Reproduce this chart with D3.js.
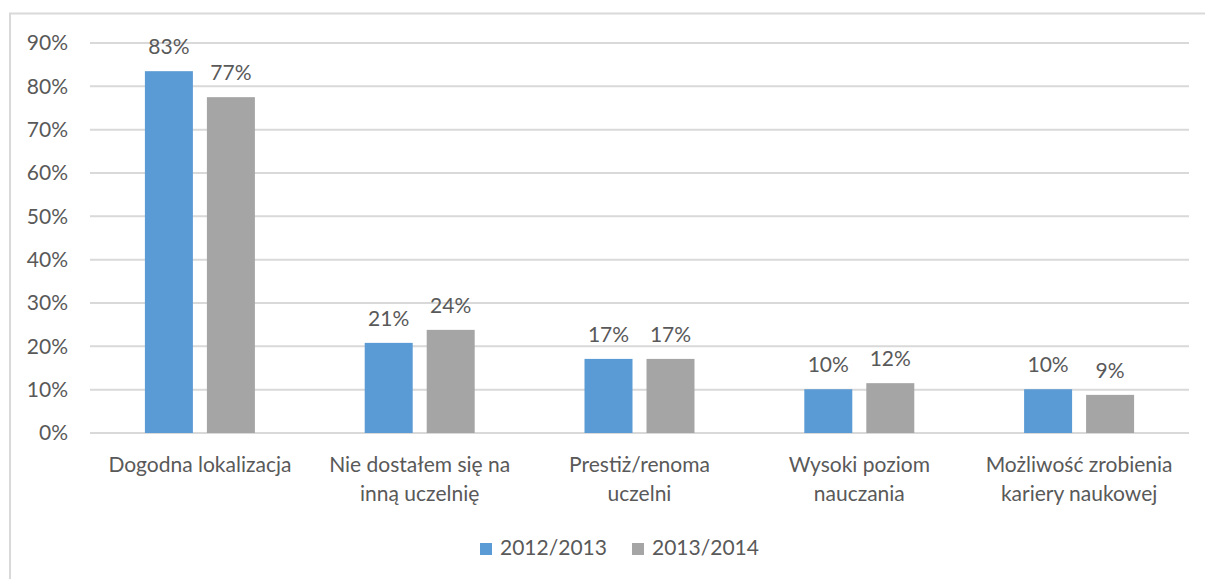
<!DOCTYPE html>
<html>
<head>
<meta charset="utf-8">
<script src="https://cdn.jsdelivr.net/npm/d3@7"></script>
<style>
  body { margin: 0; background: #fff; }
  text { font-family: Lato, "Open Sans", sans-serif; fill: #595959; }
</style>
</head>
<body>
<div id="chart"></div>
<script>
// data
var categories = [
  ["Dogodna lokalizacja"],
  ["Nie dostałem się na", "inną uczelnię"],
  ["Prestiż/renoma", "uczelni"],
  ["Wysoki poziom", "nauczania"],
  ["Możliwość zrobienia", "kariery naukowej"]
];
var seriesNames = ["2012/2013", "2013/2014"];
var values2012 = [0.835, 0.208, 0.171, 0.101, 0.101];
var values2013 = [0.775, 0.238, 0.171, 0.115, 0.088];
var labels2012 = ["83%", "21%", "17%", "10%", "10%"];
var labels2013 = ["77%", "24%", "17%", "12%", "9%"];
var yTicks = [0, 0.1, 0.2, 0.3, 0.4, 0.5, 0.6, 0.7, 0.8, 0.9];
var colors = ["#5b9bd5", "#a5a5a5"];

var svgWidth = 1205;
var svgHeight = 579;
var fontSize = "21px";

var svg = d3.select("#chart")
  .append("svg")
  .attr("width", svgWidth)
  .attr("height", svgHeight);

// outer chart frame (cropped at right and bottom)
svg.append("path")
  .attr("d", "M10,579 V13.5 H1205")
  .attr("fill", "none")
  .attr("stroke", "#d9d9d9")
  .attr("stroke-width", 2);

var plotLeft = 90, plotRight = 1189, plotTop = 43, plotBottom = 433;

var x0 = d3.scaleBand()
  .domain(d3.range(categories.length))
  .range([plotLeft, plotRight]);

var y = d3.scaleLinear()
  .domain([0, 0.9])
  .range([plotBottom, plotTop]);

// gridlines
svg.append("g")
  .selectAll("line")
  .data(yTicks)
  .enter()
  .append("line")
  .attr("x1", plotLeft)
  .attr("x2", plotRight)
  .attr("y1", d => y(d))
  .attr("y2", d => y(d))
  .attr("stroke", "#d9d9d9")
  .attr("stroke-width", 2);

// y axis labels
svg.append("g")
  .selectAll("text")
  .data(yTicks)
  .enter()
  .append("text")
  .attr("x", 68)
  .attr("y", d => y(d))
  .attr("dy", "0.35em")
  .attr("text-anchor", "end")
  .style("font-size", fontSize)
  .text(d => Math.round(d * 100) + "%");

// bars
var barW = 48, gap = 14;
var series = [values2012, values2013];
var seriesLabels = [labels2012, labels2013];

series.forEach(function(vals, s) {
  var offset = s === 0 ? -(gap / 2 + barW) : gap / 2;
  var g = svg.append("g");
  g.selectAll("rect")
    .data(vals)
    .enter()
    .append("rect")
    .attr("x", (d, i) => x0(i) + x0.bandwidth() / 2 + offset)
    .attr("y", d => y(d))
    .attr("width", barW)
    .attr("height", d => plotBottom - y(d))
    .attr("fill", colors[s]);

  g.selectAll("text")
    .data(vals)
    .enter()
    .append("text")
    .attr("x", (d, i) => x0(i) + x0.bandwidth() / 2 + offset + barW / 2)
    .attr("y", d => y(d) - 17)
    .attr("text-anchor", "middle")
    .style("font-size", fontSize)
    .text((d, i) => seriesLabels[s][i]);
});

// category labels
var catGroup = svg.append("g");
categories.forEach(function(lines, i) {
  lines.forEach(function(line, j) {
    catGroup.append("text")
      .attr("x", x0(i) + x0.bandwidth() / 2)
      .attr("y", 472 + j * 29)
      .attr("text-anchor", "middle")
      .style("font-size", fontSize)
      .text(line);
  });
});

// legend
var legend = svg.append("g");
var legendX = [480, 632];
seriesNames.forEach(function(name, s) {
  legend.append("rect")
    .attr("x", legendX[s])
    .attr("y", 543)
    .attr("width", 12)
    .attr("height", 12)
    .attr("fill", colors[s]);
  legend.append("text")
    .attr("x", legendX[s] + 20)
    .attr("y", 555)
    .style("font-size", fontSize)
    .text(name);
});
</script>
</body>
</html>
